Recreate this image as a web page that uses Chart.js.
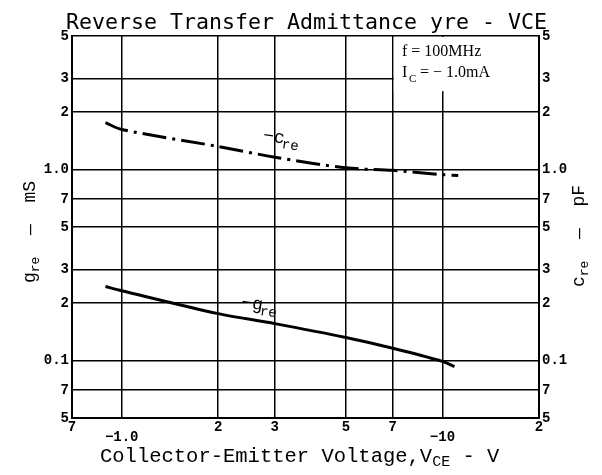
<!DOCTYPE html>
<html>
<head>
<meta charset="utf-8">
<script src="https://cdn.jsdelivr.net/npm/chart.js@4.4.1/dist/chart.umd.min.js"></script>
<style>
  html, body { margin: 0; padding: 0; background: #fff; }
  #wrap { width: 602px; height: 475px; }
</style>
</head>
<body>
<div id="wrap"><canvas id="yreChart"></canvas></div>
<script>
// datos (VCE en valor absoluto)
var creVce = [0.89, 1, 2, 3, 5, 7, 10, 11.2];
var creVals = [1.76, 1.62, 1.32, 1.16, 1.02, 0.99, 0.94, 0.93];
var greVce = [0.89, 1, 2, 3, 5, 7, 10, 10.9];
var greVals = [0.244, 0.232, 0.176, 0.156, 0.132, 0.116, 0.099, 0.093];

var xTicks = [0.7, 1, 2, 3, 5, 7, 10, 20];
var xTickLabels = ['7', ['', '\u22121.0'], '2', '3', '5', '7', ['', '\u221210'], '2'];
var yTicks = [0.05, 0.07, 0.1, 0.2, 0.3, 0.5, 0.7, 1, 2, 3, 5];
var yTickLabels = ['5', '7', '0.1', '2', '3', '5', '7', '1.0', '2', '3', '5'];

var tickFont = { family: 'Liberation Mono', size: 14, weight: 'bold' };

function setTicks(vals) {
    return function(scale) {
        scale.ticks = vals.map(function(v) { return { value: v }; });
    };
}

// textos y recuadro de condiciones
var extras = {
    id: 'extras',
    beforeDatasetsDraw: function(chart) {
        var ctx = chart.ctx, a = chart.chartArea;
        var x = chart.scales.x, y = chart.scales.y;
        // recuadro blanco sobre la cuadricula
        var bx = x.getPixelForValue(7) + 1;
        ctx.save();
        ctx.fillStyle = '#fff';
        ctx.fillRect(bx, a.top + 1, a.right - bx - 1, y.getPixelForValue(2.6) - a.top);
        ctx.restore();
    },
    afterDraw: function(chart) {
        var ctx = chart.ctx;
        var x = chart.scales.x, y = chart.scales.y;
        ctx.save();
        ctx.fillStyle = '#000';
        ctx.textBaseline = 'alphabetic';

        // titulo
        ctx.font = '21.6px "DejaVu Sans Mono"';
        ctx.textAlign = 'left';
        ctx.fillText('Reverse Transfer Admittance yre - VCE', 66, 29);

        // condiciones
        ctx.font = '16px "Liberation Serif"';
        ctx.fillText('f = 100MHz', 402, 56);
        ctx.fillText('I', 402, 77);
        ctx.font = '11px "Liberation Serif"';
        ctx.fillText('C', 409, 82);
        ctx.font = '16px "Liberation Serif"';
        ctx.fillText('= \u2212 1.0mA', 420, 77);

        // titulo eje x
        ctx.font = '20.5px "Liberation Mono"';
        var s1 = 'Collector-Emitter Voltage,V';
        ctx.fillText(s1, 100, 462);
        var w1 = ctx.measureText(s1).width;
        ctx.font = '15px "Liberation Mono"';
        ctx.fillText('CE', 100 + w1, 466);
        var w2 = ctx.measureText('CE').width;
        ctx.font = '20.5px "Liberation Mono"';
        ctx.fillText(' - V', 100 + w1 + w2, 462);

        // titulos de ejes y (leen de abajo hacia arriba)
        function vTitle(cx, cy, main, sub, rest) {
            ctx.save();
            ctx.translate(cx, cy);
            ctx.rotate(-Math.PI / 2);
            ctx.font = '18px "Liberation Mono"';
            var wm = ctx.measureText(main).width;
            ctx.font = '13px "Liberation Mono"';
            var ws = ctx.measureText(sub).width;
            ctx.font = '18px "Liberation Mono"';
            var wr = ctx.measureText(rest).width;
            var x0 = -(wm + ws + wr) / 2;
            ctx.textAlign = 'left';
            ctx.fillText(main, x0, 5);
            ctx.font = '13px "Liberation Mono"';
            ctx.fillText(sub, x0 + wm, 9);
            ctx.font = '18px "Liberation Mono"';
            ctx.fillText(rest, x0 + wm + ws, 5);
            ctx.restore();
        }
        vTitle(30, 232, 'g', 're', '  \u2014  mS');
        vTitle(579, 236, 'c', 're', '  \u2014  pF');

        // etiquetas de las curvas
        function curveLabel(vx, vy, main, ang) {
            ctx.save();
            ctx.translate(x.getPixelForValue(vx), y.getPixelForValue(vy));
            ctx.rotate(ang);
            ctx.textAlign = 'left';
            ctx.font = '18px "Liberation Mono"';
            ctx.fillText('\u2212' + main, 0, 0);
            var w = ctx.measureText('\u2212' + main).width;
            ctx.font = '14px "Liberation Mono"';
            ctx.fillText('re', w - 2, 5);
            ctx.restore();
        }
        curveLabel(2.75, 1.42, 'c', 0.14);
        curveLabel(2.35, 0.19, 'g', 0.14);
        ctx.restore();
    }
};

var ctx = document.getElementById('yreChart').getContext('2d');
var yreChart = new Chart(ctx, {
    type: 'line',
    data: {
        datasets: [{
            label: '-cre',
            data: creVce.map(function(v, i) { return { x: v, y: creVals[i] }; }),
            borderColor: '#000',
            borderWidth: 3,
            borderDash: [24, 6, 3, 6],
            pointRadius: 0,
            tension: 0.3,
            fill: false
        }, {
            label: '-gre',
            data: greVce.map(function(v, i) { return { x: v, y: greVals[i] }; }),
            borderColor: '#000',
            borderWidth: 3,
            pointRadius: 0,
            tension: 0.3,
            fill: false
        }]
    },
    options: {
        responsive: true,
        maintainAspectRatio: false,
        animation: false,
        layout: { padding: { top: 36 } },
        plugins: {
            legend: { display: false },
            tooltip: { enabled: false },
            title: { display: false }
        },
        scales: {
            x: {
                type: 'logarithmic',
                min: 0.7,
                max: 20,
                afterBuildTicks: setTicks(xTicks),
                afterFit: function(s) { s.height = 57; },
                border: { color: '#000', width: 2 },
                grid: { color: '#000', lineWidth: 1.5, drawTicks: false },
                ticks: {
                    color: '#000',
                    font: { family: 'Liberation Mono', size: 14, weight: 'bold', lineHeight: 0.75 },
                    padding: 4,
                    maxRotation: 0,
                    autoSkip: false,
                    callback: function(v) { return xTickLabels[xTicks.indexOf(v)]; }
                }
            },
            y: {
                type: 'logarithmic',
                position: 'left',
                min: 0.05,
                max: 5,
                afterBuildTicks: setTicks(yTicks),
                afterFit: function(s) { s.width = 72; },
                border: { color: '#000', width: 2 },
                grid: { color: '#000', lineWidth: 1.5, drawTicks: false },
                ticks: {
                    color: '#000',
                    font: tickFont,
                    padding: 3,
                    autoSkip: false,
                    callback: function(v) { return yTickLabels[yTicks.indexOf(v)]; }
                }
            },
            y2: {
                type: 'logarithmic',
                position: 'right',
                min: 0.05,
                max: 5,
                afterBuildTicks: setTicks(yTicks),
                afterFit: function(s) { s.width = 63; },
                border: { color: '#000', width: 2 },
                grid: { display: false, drawTicks: false },
                ticks: {
                    color: '#000',
                    font: tickFont,
                    padding: 3,
                    autoSkip: false,
                    callback: function(v) { return yTickLabels[yTicks.indexOf(v)]; }
                }
            }
        }
    },
    plugins: [extras]
});
</script>
</body>
</html>
